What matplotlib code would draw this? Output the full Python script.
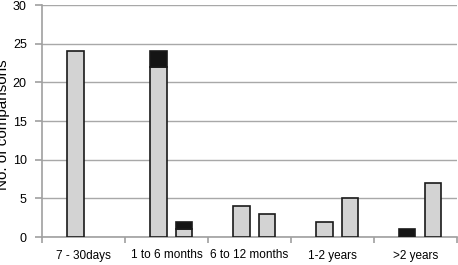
import numpy as np
import matplotlib.pyplot as plt

plt.rcParams['font.family'] = ['Liberation Sans', 'DejaVu Sans']

# 기간별 비교 건수
categories = ['7 - 30days', '1 to 6 months', '6 to 12 months', '1-2 years', '>2 years']
bar1_gray = [24, 22, 4, 2, 0]
bar1_black = [0, 2, 0, 0, 1]
bar2_gray = [0, 1, 3, 5, 7]
bar2_black = [0, 1, 0, 0, 0]

fig = plt.figure(figsize=(4.58, 2.65), dpi=100)
ax = fig.add_axes([42 / 458, 1 - 237 / 265, 415 / 458, 232 / 265])

x = np.arange(len(categories))
w = 0.2
pos1 = x - 0.1
pos2 = x + 0.21

def draw(pos, gray, black):
    for p, g, b in zip(pos, gray, black):
        if g > 0:
            ax.bar(p, g, w, color='#d3d3d3', edgecolor='#1a1a1a', linewidth=1.2, zorder=3)
        if b > 0:
            ax.bar(p, b, w, bottom=g, color='#151515', edgecolor='#1a1a1a', linewidth=1.2, zorder=3)

draw(pos1, bar1_gray, bar1_black)
draw(pos2, bar2_gray, bar2_black)

ax.set_xlim(-0.5, len(categories) - 0.5)
ax.set_ylim(0, 30)
ax.set_yticks(range(0, 31, 5))
ax.yaxis.grid(True, color='#a8a8a8', linewidth=1, zorder=0)
ax.set_axisbelow(True)

for s in ['top', 'right']:
    ax.spines[s].set_visible(False)
ax.spines['left'].set_color('#a0a0a0')
ax.spines['bottom'].set_color('#a0a0a0')
ax.spines['left'].set_linewidth(1.2)
ax.spines['bottom'].set_linewidth(1.2)

ax.set_xticks(np.arange(-0.5, len(categories), 1))
ax.set_xticklabels([])
ax.set_xticks(x, minor=True)
ax.set_xticklabels(categories, minor=True, fontsize=8.5)
ax.tick_params(axis='x', which='major', length=4, color='#a0a0a0', width=1.2)
ax.tick_params(axis='x', which='minor', length=0, pad=9)
ax.tick_params(axis='y', length=5, color='#a0a0a0', width=1.2, labelsize=9, pad=6)

fig.text(0.006, 0.53, 'No. of comparisons', rotation=90, ha='center', va='center', fontsize=11)

fig.savefig('out.png', dpi=100)
